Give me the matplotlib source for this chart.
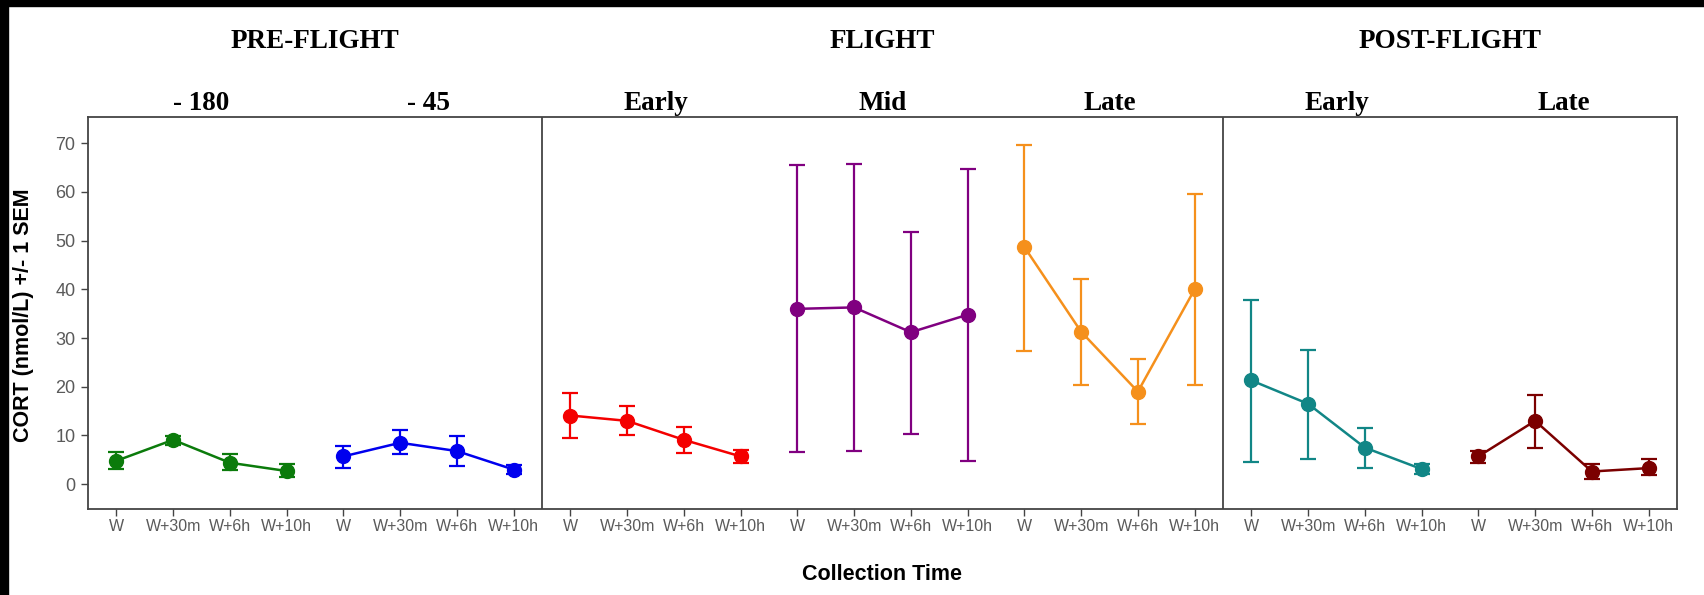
import matplotlib
matplotlib.use("Agg")
import matplotlib.pyplot as plt
import matplotlib.transforms as mtransforms
from matplotlib.patches import Rectangle

# collection times repeated in every session
times = ["W", "W+30m", "W+6h", "W+10h"]

# session names, phase headers, colours
sessions = ["- 180", "- 45", "Early", "Mid", "Late", "Early", "Late"]
phases = ["PRE-FLIGHT", "FLIGHT", "POST-FLIGHT"]
phase_sessions = [2, 3, 2]
colors = ["#0b7b0b", "#0000ee", "#f40000", "#800080", "#f5901c", "#118686", "#7b0000"]

# CORT means (nmol/L)
means = [
    [4.8, 9.1, 4.4, 2.7],
    [5.7, 8.5, 6.8, 3.0],
    [14.1, 13.0, 9.1, 5.7],
    [36.0, 36.3, 31.2, 34.8],
    [48.7, 31.3, 19.0, 40.0],
    [21.3, 16.5, 7.5, 3.1],
    [5.7, 13.0, 2.6, 3.3],
]
# upper / lower ends of the +/- 1 SEM bars
upper = [
    [6.6, 9.9, 6.1, 4.1],
    [7.9, 11.1, 9.9, 3.9],
    [18.7, 16.0, 11.8, 7.0],
    [65.6, 65.8, 51.8, 64.7],
    [69.7, 42.2, 25.7, 59.5],
    [37.9, 27.6, 11.5, 4.1],
    [6.8, 18.3, 4.1, 5.2],
]
lower = [
    [3.1, 8.0, 2.9, 1.4],
    [3.4, 6.1, 3.7, 2.0],
    [9.5, 10.0, 6.3, 4.4],
    [6.6, 6.8, 10.4, 4.8],
    [27.4, 20.3, 12.4, 20.4],
    [4.6, 5.2, 3.4, 2.0],
    [4.4, 7.5, 1.0, 1.8],
]

W, H = 1704, 595
fig = plt.figure(figsize=(W / 100, H / 100), dpi=100)
ax = fig.add_axes([88 / W, 1 - 509 / H, (1677 - 88) / W, (509 - 117) / H])

n = len(times)
for i, (m, up, lo, c) in enumerate(zip(means, upper, lower, colors)):
    x = [i * n + j for j in range(n)]
    err = [[a - b for a, b in zip(m, lo)], [b - a for a, b in zip(m, up)]]
    ax.errorbar(x, m, yerr=err, color=c, marker="o", markersize=10,
                linewidth=1.8, elinewidth=1.6, capsize=6, capthick=1.6)

ax.set_xlim(-0.5, len(sessions) * n - 0.5)
ax.set_ylim(-5.1, 75.4)
ax.set_yticks(range(0, 80, 10))
ax.set_xticks(range(len(sessions) * n))
ax.set_xticklabels(times * len(sessions))

spine_col = "#444444"
for s in ax.spines.values():
    s.set_color(spine_col)
    s.set_linewidth(1.3)
ax.tick_params(axis="both", colors=spine_col, length=5, width=1,
               labelcolor="#5a5a5a")
ax.tick_params(axis="x", pad=2)
ax.tick_params(axis="y", pad=4)
for lab in ax.get_xticklabels():
    lab.set_fontsize(11.5)
    lab.set_family("Liberation Sans")
for lab in ax.get_yticklabels():
    lab.set_fontsize(13)
    lab.set_family("Liberation Sans")

# phase dividers
start = 0
for k in phase_sessions[:-1]:
    start += k
    ax.axvline(start * n - 0.5, color=spine_col, linewidth=1.3)

ax.set_ylabel("CORT (nmol/L) +/- 1 SEM", fontsize=15.5, fontweight="bold",
              family="Liberation Sans", va="center")
ax.yaxis.set_label_coords(-0.0405, 0.495)
ax.set_xlabel("Collection Time", fontsize=15.5, fontweight="bold",
              family="Liberation Sans", va="center")
ax.xaxis.set_label_coords(0.5, -0.166)

# session and phase headers
trans = mtransforms.blended_transform_factory(ax.transData, fig.transFigure)
for i, name in enumerate(sessions):
    ax.text(i * n + (n - 1) / 2, 1 - 110 / H, name, transform=trans,
            ha="center", va="baseline", fontsize=19.5, fontweight="bold",
            family="Liberation Serif")
start = 0
for name, k in zip(phases, phase_sessions):
    center = (start * n + (start + k) * n - 1) / 2
    ax.text(center, 1 - 48 / H, name, transform=trans, ha="center",
            va="baseline", fontsize=19.5, fontweight="bold",
            family="Liberation Serif")
    start += k

# black frame strips at left and top edge
fig.add_artist(Rectangle((0, 0), 8 / W, 1, transform=fig.transFigure,
                         color="black", zorder=10))
fig.add_artist(Rectangle((0, 1 - 6 / H), 1, 6 / H, transform=fig.transFigure,
                         color="black", zorder=10))

fig.savefig("out.png", dpi=100)
